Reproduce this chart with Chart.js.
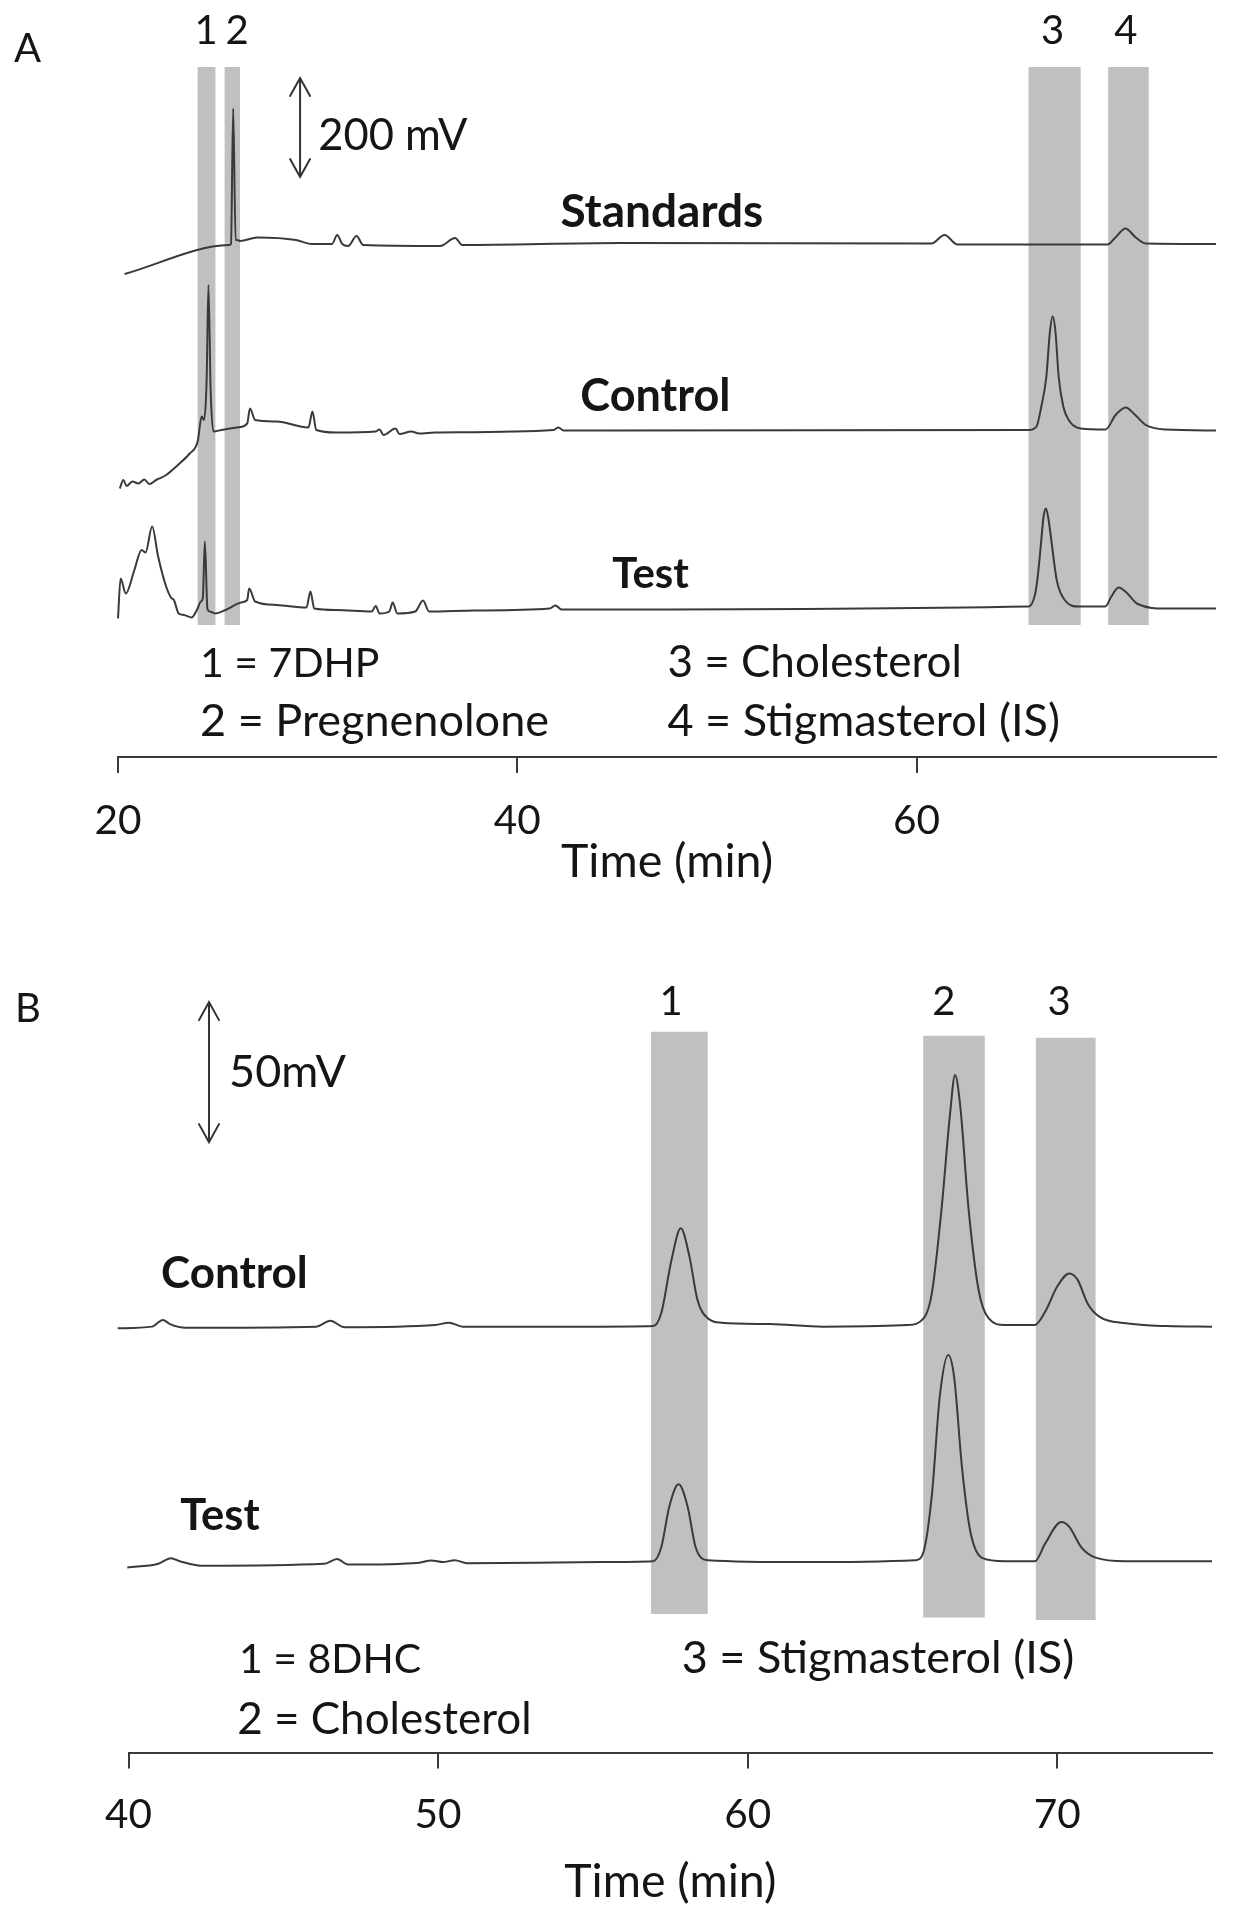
<!DOCTYPE html>
<html>
<head>
<meta charset="utf-8">
<script src="https://cdn.jsdelivr.net/npm/chart.js@4.4.0/dist/chart.umd.min.js"></script>
<style>
html,body{margin:0;padding:0;background:#fff;}
#wrap{position:relative;width:1233px;height:1920px;overflow:hidden;}
canvas{position:absolute;left:0;}
#cA{top:0;}
#cB{top:940px;}
</style>
</head>
<body>
<div id="wrap">
<canvas id="cA" width="1233" height="940"></canvas>
<canvas id="cB" width="1233" height="980"></canvas>
</div>
<script>
// ---------------- DATA ----------------
// Panel A (time in min, signal in mV, traces stacked as drawn)
const ticksA = [20, 40, 60];
const standardsA_time = [20.33,25.57,25.66,25.77,25.89,25.96,26.12,26.97,28.92,29.70,30.72,30.98,31.23,31.53,31.95,32.28,36.14,36.89,37.24,45.16,60.75,61.40,62.05,69.56,69.96,70.46,70.98,71.48,75.00];
const standardsA_mV   = [966,1024,1026,1297,1034,1034,1032,1039,1034,1026,1026,1044,1026,1022,1042,1024,1022,1038,1024,1028,1027,1044,1025,1025,1039,1057,1039,1027,1026];
const controlA_time = [20.09,20.27,20.43,20.72,21.02,21.32,21.57,21.91,22.41,23.00,23.59,23.99,24.19,24.31,24.44,24.53,24.64,24.78,25.18,25.96,26.47,26.61,26.87,27.95,29.54,29.74,29.93,30.93,32.91,33.10,33.30,33.90,34.10,34.69,35.09,35.88,41.82,42.06,42.32,65.61,66.01,66.25,66.50,66.68,66.82,66.96,67.12,67.35,67.62,68.22,69.47,69.97,70.48,70.88,71.48,72.48,75.00];
const controlA_mV   = [537,554,542,551,547,555,546,554,564,584,607,631,681,674,754,944,734,651,654,659,667,697,674,671,659,691,654,649,651,655,644,657,646,651,647,649,654,659,653,654,661,701,760,850,881,850,760,701,674,657,655,684,699,687,664,655,653];
const testA_time = [20.00,20.13,20.39,20.82,21.18,21.38,21.71,22.01,22.41,22.65,22.80,23.04,23.30,23.69,23.95,24.15,24.25,24.35,24.48,24.59,24.88,25.38,26.17,26.47,26.57,26.87,27.95,29.44,29.64,29.83,30.93,32.71,32.91,33.10,33.59,33.76,33.99,34.89,35.28,35.58,37.86,41.62,41.91,42.22,65.61,65.91,66.05,66.22,66.36,66.48,66.60,66.79,67.02,67.42,68.12,69.45,69.76,70.12,70.46,71.08,72.48,75.00];
const testA_mV   = [277,357,327,374,414,409,461,401,341,319,314,287,284,279,294,311,318,431,296,291,287,294,309,314,337,311,304,299,331,297,294,291,302,287,291,309,287,291,313,291,293,297,303,295,301,321,354,421,480,497,478,421,354,314,301,301,321,339,331,306,297,297];
const bandsA_start = [23.99, 25.34, 65.61, 69.60];
const bandsA_end   = [24.88, 26.11, 68.22, 71.63];
const bandsA_low   = [264, 264, 264, 264];
const bandsA_high  = [1380, 1380, 1380, 1380];
const peakLabelsA  = ['1', '2', '3', '4'];
const peakLabelA_time = [24.41, 25.96, 66.82, 70.48];
const compoundsA = ['1 = 7DHP', '2 = Pregnenolone', '3 = Cholesterol', '4 = Stigmasterol (IS)'];

// Panel B
const ticksB = [40, 50, 60, 70];
const controlB_time = [39.65,40.76,41.11,41.34,41.85,46.07,46.52,46.97,49.91,50.35,50.80,55.25,56.95,57.21,57.54,57.84,58.12,58.38,58.71,59.16,60.73,62.43,65.17,65.69,65.95,66.27,66.54,66.70,66.87,67.13,67.46,67.78,68.30,69.28,69.61,70.00,70.39,70.66,70.98,71.37,72.22,73.53,75.00];
const controlB_mV   = [151.5,152.1,154.5,153.0,151.7,152.1,154.2,151.9,152.7,153.5,152.1,152.1,152.3,157.0,175.9,187.2,177.1,161.6,155.1,153.5,153.0,152.1,152.7,155.1,164.0,194.9,228.3,242.0,230.6,194.9,165.2,155.1,152.7,152.7,157.4,166.4,171.1,168.8,160.4,155.6,153.3,152.3,152.1];
const testB_time = [39.96,40.96,41.37,41.66,42.36,46.33,46.74,47.09,49.40,49.78,50.16,50.54,50.93,55.25,56.95,57.21,57.47,57.77,58.06,58.32,58.71,61.78,65.43,65.69,65.95,66.21,66.48,66.67,66.93,67.20,67.59,68.30,69.28,69.61,70.13,70.39,70.78,71.24,72.22,75.00];
const testB_mV   = [66.1,67.4,69.4,68.3,66.7,67.4,69.1,67.1,67.8,68.6,68.0,68.7,67.6,68.0,68.3,73.3,87.9,95.8,87.9,73.3,68.7,68.0,68.7,72.0,91.8,127.5,142.0,134.1,101.1,78.6,69.4,68.3,68.3,74.6,82.3,80.6,73.3,69.6,68.3,68.3];
const bandsB_start = [56.88, 65.67, 69.31];
const bandsB_end   = [58.71, 67.66, 71.24];
const bandsB_low   = [49.5, 48.2, 47.3];
const bandsB_high  = [257.4, 256.0, 255.3];
const peakLabelsB  = ['1', '2', '3'];
const peakLabelB_time = [57.53, 66.34, 70.06];
const compoundsB = ['1 = 8DHC', '2 = Cholesterol', '3 = Stigmasterol (IS)'];

// ---------------- STYLE ----------------
const FONT = 'Lato';
const TEXT = '#151515';
const LINE = '#3a3a3a';
const AXIS = '#3a3a3a';
const BAND = '#c0c0c0';

const mctx = document.createElement('canvas').getContext('2d');
function fitSize(text, weight, target) {
  mctx.font = weight + ' 100px ' + FONT;
  return Math.round(100 * target / mctx.measureText(text).width * 2) / 2;
}
const TICK_SIZE = fitSize('40', 'normal', 47);
const TITLE_SIZE = fitSize('Time (min)', 'normal', 213);

function overlayPlugin(items, arrows) {
  return {
    id: 'overlay',
    afterDraw(chart) {
      const ctx = chart.ctx, xs = chart.scales.x, ys = chart.scales.y;
      ctx.save();
      ctx.fillStyle = TEXT;
      ctx.textBaseline = 'alphabetic';
      for (const it of items) {
        const size = it.size || fitSize(it.text, it.weight || 'normal', it.w);
        ctx.font = (it.weight || 'normal') + ' ' + size + 'px ' + FONT;
        ctx.textAlign = it.align || 'left';
        ctx.fillText(it.text, xs.getPixelForValue(it.t), ys.getPixelForValue(it.v));
      }
      ctx.strokeStyle = '#333';
      ctx.lineWidth = 2;
      ctx.lineCap = 'round';
      for (const a of arrows) {
        const px = xs.getPixelForValue(a.t);
        const y1 = ys.getPixelForValue(a.v1), y2 = ys.getPixelForValue(a.v2);
        ctx.beginPath();
        ctx.moveTo(px, y1); ctx.lineTo(px, y2);
        ctx.moveTo(px - 10, y1 + 18); ctx.lineTo(px, y1); ctx.lineTo(px + 10, y1 + 18);
        ctx.moveTo(px - 10, y2 - 18); ctx.lineTo(px, y2); ctx.lineTo(px + 10, y2 - 18);
        ctx.stroke();
      }
      ctx.restore();
    }
  };
}

function traceSet(times, vals) {
  return {
    data: times.map((t, i) => ({x: t, y: vals[i]})),
    showLine: true, borderColor: LINE, borderWidth: 2, pointRadius: 0, fill: false,
    cubicInterpolationMode: 'monotone', clip: false, order: 0
  };
}
function bandSets(s, e, lo, hi) {
  return s.map((x0, i) => ({
    data: [{x: x0, y: lo[i]}, {x: x0, y: hi[i]}, {x: e[i], y: hi[i]}, {x: e[i], y: lo[i]}, {x: x0, y: lo[i]}],
    showLine: true, borderWidth: 0, borderColor: 'rgba(0,0,0,0)', backgroundColor: BAND,
    fill: 'shape', pointRadius: 0, tension: 0, order: 5
  }));
}

function makeChart(id, o) {
  return new Chart(document.getElementById(id), {
    type: 'scatter',
    data: {datasets: [...o.bands, ...o.traces]},
    options: {
      responsive: false, animation: false, devicePixelRatio: 1, events: [],
      layout: {padding: {left: o.left, right: o.right, top: o.top, bottom: 0}},
      plugins: {legend: {display: false}, tooltip: {enabled: false}},
      scales: {
        x: {
          type: 'linear', position: 'bottom', min: o.min, max: o.max,
          afterBuildTicks: ax => { ax.ticks = o.ticks.map(v => ({value: v})); },
          afterFit: ax => { ax.height = o.axisH; },
          grid: {display: true, drawOnChartArea: false, drawTicks: true, tickLength: 16, tickWidth: 2, tickColor: AXIS, color: AXIS, lineWidth: 2},
          border: {display: true, color: AXIS, width: 2},
          ticks: {font: {family: FONT, size: TICK_SIZE}, color: TEXT, padding: o.tickPad, maxRotation: 0, autoSkip: false, callback: v => String(v)},
          title: {display: true, text: 'Time (min)', font: {family: FONT, size: TITLE_SIZE}, color: TEXT, padding: {top: 0, bottom: o.titlePad}}
        },
        y: {display: false, min: 0, max: o.yMax}
      }
    },
    plugins: [overlayPlugin(o.items, o.arrows)]
  });
}

// Panel A
const itemsA = [
  {text: 'A', t: 14.79, v: 1390, size: 40},
  ...peakLabelsA.map((s, i) => ({text: s, t: peakLabelA_time[i], v: 1427, size: 40, align: 'center'})),
  {text: '200 mV', t: 30.03, v: 1214, w: 150},
  {text: 'Standards', t: 42.16, v: 1060, w: 204, weight: 'bold'},
  {text: 'Control', t: 43.16, v: 692, w: 150, weight: 'bold'},
  {text: 'Test', t: 44.76, v: 338, w: 77, weight: 'bold'},
  {text: compoundsA[0], t: 24.11, v: 161, w: 180},
  {text: compoundsA[1], t: 24.11, v: 42, w: 348},
  {text: compoundsA[2], t: 47.52, v: 161, w: 294},
  {text: compoundsA[3], t: 47.52, v: 42, w: 393}
];
makeChart('cA', {
  bands: bandSets(bandsA_start, bandsA_end, bandsA_low, bandsA_high),
  traces: [traceSet(standardsA_time, standardsA_mV), traceSet(controlA_time, controlA_mV), traceSet(testA_time, testA_mV)],
  left: 118, right: 17, top: 20, min: 20, max: 75, ticks: ticksA,
  axisH: 183, tickPad: 24, titlePad: 50, yMax: 1474,
  items: itemsA, arrows: [{t: 29.12, v1: 1358, v2: 1160}]
});

// Panel B
const itemsB = [
  {text: 'B', t: 36.33, v: 261.0, size: 40},
  ...peakLabelsB.map((s, i) => ({text: s, t: peakLabelB_time[i], v: 263.4, size: 40, align: 'center'})),
  {text: '50mV', t: 43.25, v: 237.7, w: 117},
  {text: 'Control', t: 41.05, v: 165.8, w: 147, weight: 'bold'},
  {text: 'Test', t: 41.67, v: 79.3, w: 79, weight: 'bold'},
  {text: compoundsB[0], t: 43.57, v: 28.4, w: 182},
  {text: compoundsB[1], t: 43.51, v: 6.6, w: 296},
  {text: compoundsB[2], t: 57.87, v: 28.4, w: 393}
];
makeChart('cB', {
  bands: bandSets(bandsB_start, bandsB_end, bandsB_low, bandsB_high),
  traces: [traceSet(controlB_time, controlB_mV), traceSet(testB_time, testB_mV)],
  left: 128.5, right: 21, top: 40, min: 40, max: 75, ticks: ticksB,
  axisH: 167.5, tickPad: 22, titlePad: 9.7, yMax: 275.9,
  items: itemsB, arrows: [{t: 42.60, v1: 268.0, v2: 218.0}]
});
</script>
</body>
</html>
